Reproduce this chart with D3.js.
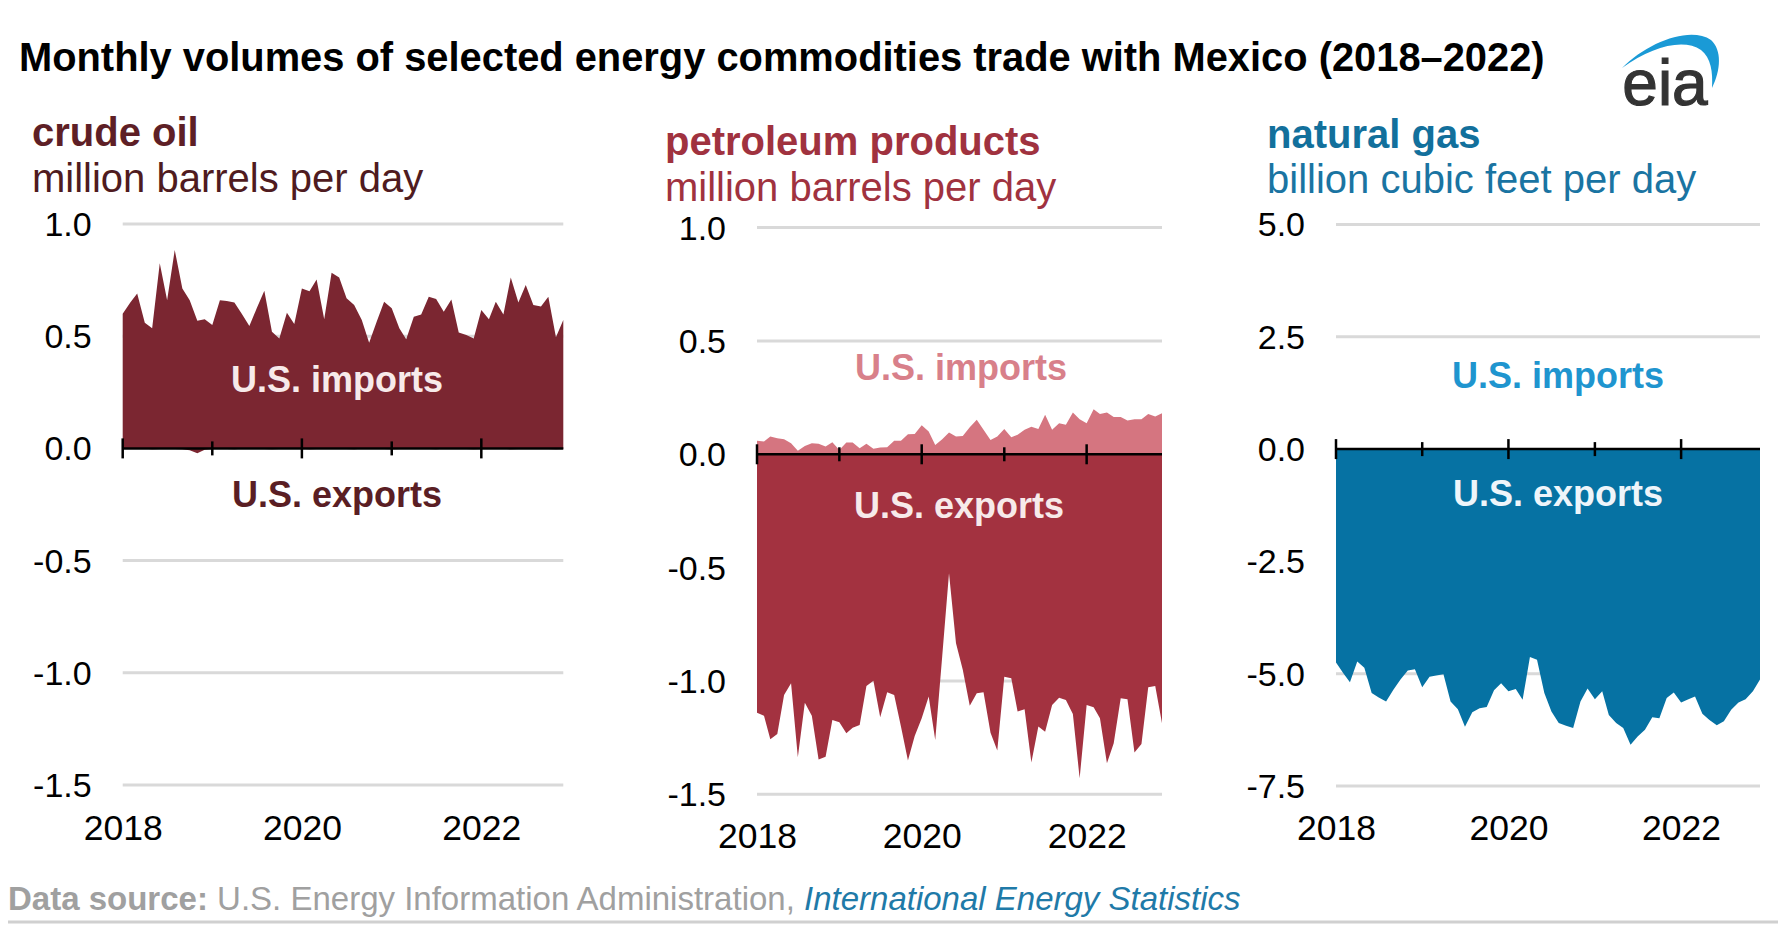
<!DOCTYPE html>
<html>
<head>
<meta charset="utf-8">
<script src="https://cdn.jsdelivr.net/npm/d3@7"></script>
<style>
  body { margin: 0; background: #fff; }
  svg { display: block; font-family: "Liberation Sans", Arial, sans-serif; }
</style>
</head>
<body>
<svg id="chart" width="1778" height="950"></svg>
<script>
// monthly values, Jan 2018 - Dec 2022
var crudeImports = [0.60,0.65,0.69,0.56,0.535,0.825,0.66,0.884,0.713,0.66,
  0.569,0.575,0.55,0.66,0.657,0.65,0.60,0.545,0.624,0.703,
  0.52,0.49,0.605,0.554,0.713,0.70,0.753,0.575,0.783,0.762,
  0.669,0.639,0.572,0.471,0.565,0.654,0.624,0.535,0.486,0.587,
  0.597,0.676,0.666,0.609,0.664,0.516,0.505,0.49,0.617,0.575,
  0.654,0.597,0.762,0.65,0.728,0.639,0.632,0.676,0.495,0.572];
var crudeExports = [-0.003,-0.002,-0.003,-0.002,-0.004,-0.003,-0.002,-0.003,-0.004,-0.008,
  -0.022,-0.006,-0.003,-0.002,-0.003,-0.004,-0.002,-0.003,-0.002,-0.003,
  -0.004,-0.003,-0.002,-0.003,-0.002,-0.004,-0.003,-0.002,-0.003,-0.002,
  -0.003,-0.004,-0.002,-0.003,-0.002,-0.003,-0.004,-0.003,-0.002,-0.003,
  -0.002,-0.003,-0.004,-0.002,-0.003,-0.002,-0.003,-0.004,-0.003,-0.002,
  -0.003,-0.002,-0.004,-0.003,-0.002,-0.003,-0.002,-0.003,-0.004,-0.003];
var productImports = [0.060,0.056,0.078,0.071,0.066,0.049,0.016,0.037,0.049,0.046,
  0.034,0.053,0.019,0.052,0.052,0.027,0.046,0.024,0.030,0.031,
  0.060,0.060,0.088,0.090,0.128,0.100,0.041,0.066,0.096,0.078,
  0.081,0.119,0.152,0.108,0.063,0.078,0.111,0.075,0.086,0.108,
  0.122,0.111,0.174,0.108,0.137,0.130,0.184,0.155,0.137,0.199,
  0.178,0.184,0.164,0.164,0.149,0.155,0.155,0.178,0.167,0.181];
var productExports = [-1.140,-1.154,-1.257,-1.234,-1.062,-1.010,-1.337,-1.096,-1.154,-1.346,
  -1.334,-1.172,-1.182,-1.231,-1.206,-1.194,-1.022,-0.999,-1.160,-1.050,
  -1.062,-1.201,-1.351,-1.243,-1.165,-1.069,-1.260,-0.890,-0.525,-0.834,
  -0.951,-1.109,-1.054,-1.050,-1.228,-1.307,-0.981,-0.988,-1.135,-1.125,
  -1.360,-1.201,-1.224,-1.106,-1.074,-1.084,-1.146,-1.429,-1.106,-1.116,
  -1.165,-1.363,-1.275,-1.076,-1.081,-1.316,-1.278,-1.028,-1.022,-1.187];
var gasImports = [0.004,0.003,0.004,0.003,0.004,0.003,0.004,0.003,0.004,0.003,
  0.004,0.003,0.004,0.003,0.004,0.003,0.004,0.003,0.004,0.003,
  0.004,0.003,0.004,0.003,0.004,0.003,0.004,0.003,0.004,0.003,
  0.004,0.003,0.004,0.003,0.004,0.003,0.004,0.003,0.004,0.003,
  0.004,0.003,0.004,0.003,0.004,0.003,0.004,0.003,0.004,0.003,
  0.004,0.003,0.004,0.003,0.004,0.003,0.004,0.003,0.004,0.003];
var gasExports = [-4.75,-4.99,-5.19,-4.73,-4.87,-5.43,-5.53,-5.62,-5.36,-5.13,
  -4.93,-4.90,-5.30,-5.07,-5.04,-5.01,-5.62,-5.79,-6.18,-5.86,
  -5.77,-5.74,-5.37,-5.21,-5.39,-5.34,-5.58,-4.63,-4.69,-5.43,
  -5.84,-6.10,-6.16,-6.21,-5.62,-5.33,-5.57,-5.39,-5.92,-6.10,
  -6.21,-6.58,-6.40,-6.25,-5.97,-5.99,-5.54,-5.42,-5.64,-5.57,
  -5.51,-5.89,-6.03,-6.15,-6.06,-5.80,-5.64,-5.57,-5.39,-5.13];

var oilTicks = [1.0, 0.5, 0, -0.5, -1.0, -1.5];
var gasTicks = [5.0, 2.5, 0, -2.5, -5.0, -7.5];
var yearLabels = [2018, 2020, 2022];

var months = d3.timeMonth.range(new Date(2018, 0, 1), new Date(2023, 0, 1));

var panels = [
  { title: "crude oil", unit: "million barrels per day",
    imports: crudeImports, exports: crudeExports, ticks: oilTicks,
    left: 122.7, right: 563.3, top: 224, bottom: 785,
    tx: 32, ty: 146, uy: 192, titleColor: "#5e1f26", unitColor: "#4f1b20",
    impFill: "#7b2631", expFill: "#7b2631",
    impLabel: { x: 337, y: 392, fill: "#f7eaea" },
    expLabel: { x: 337, y: 507, fill: "#5a1e24" },
    yearY: 840 },
  { title: "petroleum products", unit: "million barrels per day",
    imports: productImports, exports: productExports, ticks: oilTicks,
    left: 757, right: 1162, top: 227.6, bottom: 794.3,
    tx: 665, ty: 155, uy: 201, titleColor: "#a0323f", unitColor: "#a0323f",
    impFill: "#d57580", expFill: "#a33240",
    impLabel: { x: 961, y: 380, fill: "#d8808a" },
    expLabel: { x: 959, y: 518, fill: "#f7eaea" },
    yearY: 848 },
  { title: "natural gas", unit: "billion cubic feet per day",
    imports: gasImports, exports: gasExports, ticks: gasTicks,
    left: 1336, right: 1760, top: 224.5, bottom: 786,
    tx: 1267, ty: 148, uy: 193, titleColor: "#12709c", unitColor: "#1a74a2",
    impFill: "#5aa9d6", expFill: "#0672a3",
    impLabel: { x: 1558, y: 388, fill: "#1f95cf" },
    expLabel: { x: 1558, y: 506, fill: "#eef5fa" },
    yearY: 840 }
];

var svg = d3.select("#chart");

function fitWidth(sel, w) {
  var len = sel.node().getComputedTextLength();
  var fs = parseFloat(sel.attr("font-size"));
  sel.attr("font-size", fs * w / len);
}

// title
var title = svg.append("text")
  .attr("x", 19).attr("y", 71)
  .attr("font-size", 37).attr("font-weight", "bold").attr("fill", "#000")
  .text("Monthly volumes of selected energy commodities trade with Mexico (2018\u20132022)");
fitWidth(title, 1526);

// eia logo
svg.append("path")
  .attr("d", "M1622,68 C1648,42 1690,26 1711,40 C1722,50 1721,70 1712,88 C1713,72 1711,58 1701,50 C1684,38 1652,46 1622,68 Z")
  .attr("fill", "#1a9ad6");
svg.append("text")
  .attr("x", 1665).attr("y", 105).attr("text-anchor", "middle")
  .attr("font-size", 64).attr("fill", "#333333")
  .attr("stroke", "#333333").attr("stroke-width", 1.2)
  .text("eia");

panels.forEach(function(p) {
  var g = svg.append("g");

  var x = d3.scaleTime()
    .domain([months[0], months[months.length - 1]])
    .range([p.left, p.right]);
  var y = d3.scaleLinear()
    .domain([p.ticks[p.ticks.length - 1], p.ticks[0]])
    .range([p.bottom, p.top]);

  g.append("text")
    .attr("x", p.tx).attr("y", p.ty)
    .attr("font-size", 40).attr("font-weight", "bold").attr("fill", p.titleColor)
    .text(p.title);
  g.append("text")
    .attr("x", p.tx).attr("y", p.uy)
    .attr("font-size", 40).attr("fill", p.unitColor)
    .text(p.unit);

  // gridlines
  g.selectAll(".grid")
    .data(p.ticks.filter(function(d) { return d !== 0; }))
    .enter().append("line")
    .attr("x1", p.left).attr("x2", p.right)
    .attr("y1", function(d) { return y(d); })
    .attr("y2", function(d) { return y(d); })
    .attr("stroke", "#d9d9d9").attr("stroke-width", 3);

  // y tick labels
  g.selectAll(".ylab")
    .data(p.ticks)
    .enter().append("text")
    .attr("x", p.left - 31)
    .attr("y", function(d) { return y(d); })
    .attr("dy", "0.35em")
    .attr("text-anchor", "end")
    .attr("font-size", 34).attr("fill", "#000")
    .text(function(d) { return d.toFixed(1); });

  var area = d3.area()
    .x(function(d, i) { return x(months[i]); })
    .y0(y(0))
    .y1(function(d) { return y(d); });

  g.append("path").datum(p.exports).attr("d", area).attr("fill", p.expFill);
  g.append("path").datum(p.imports).attr("d", area).attr("fill", p.impFill);

  // zero axis with year ticks
  g.append("line")
    .attr("x1", p.left).attr("x2", p.right)
    .attr("y1", y(0)).attr("y2", y(0))
    .attr("stroke", "#000").attr("stroke-width", 2.5);

  g.selectAll(".tick")
    .data(x.ticks(d3.timeYear.every(1)))
    .enter().append("line")
    .attr("x1", function(d) { return x(d); })
    .attr("x2", function(d) { return x(d); })
    .attr("y1", function(d) { return y(0) - (d.getFullYear() % 2 === 0 ? 10 : 7); })
    .attr("y2", function(d) { return y(0) + (d.getFullYear() % 2 === 0 ? 10 : 7); })
    .attr("stroke", "#000").attr("stroke-width", 2.5);

  // year labels
  var xAxis = d3.axisBottom(x)
    .tickValues(yearLabels.map(function(yr) { return new Date(yr, 0, 1); }))
    .tickFormat(d3.timeFormat("%Y"))
    .tickSize(0);
  var ax = g.append("g")
    .attr("transform", "translate(0," + p.yearY + ")")
    .call(xAxis);
  ax.select(".domain").remove();
  ax.selectAll("text")
    .attr("y", 0).attr("dy", 0)
    .attr("font-size", 35.5).attr("fill", "#000")
    .attr("font-family", "\"Liberation Sans\", Arial, sans-serif");

  g.append("text")
    .attr("x", p.impLabel.x).attr("y", p.impLabel.y)
    .attr("text-anchor", "middle")
    .attr("font-size", 36).attr("font-weight", "bold").attr("fill", p.impLabel.fill)
    .text("U.S. imports");
  g.append("text")
    .attr("x", p.expLabel.x).attr("y", p.expLabel.y)
    .attr("text-anchor", "middle")
    .attr("font-size", 36).attr("font-weight", "bold").attr("fill", p.expLabel.fill)
    .text("U.S. exports");
});

// source
var src = svg.append("text")
  .attr("x", 8).attr("y", 910)
  .attr("font-size", 31).attr("fill", "#a0a0a0");
src.append("tspan").attr("font-weight", "bold").text("Data source:");
src.append("tspan").text(" U.S. Energy Information Administration, ");
src.append("tspan").attr("font-style", "italic").attr("fill", "#1f7aa8").text("International Energy Statistics");
fitWidth(src, 1233);

svg.append("line")
  .attr("x1", 8).attr("x2", 1778)
  .attr("y1", 922).attr("y2", 922)
  .attr("stroke", "#d0d0d0").attr("stroke-width", 3);
</script>
</body>
</html>
